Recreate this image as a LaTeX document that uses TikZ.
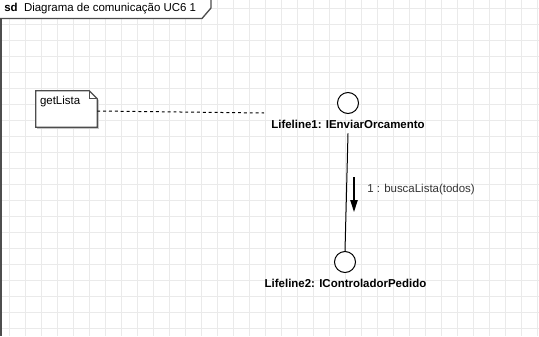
\documentclass[tikz,border=0pt]{standalone}
\usepackage{fontspec}
\setmainfont{Liberation Sans}
\usepackage{tikz}
\usetikzlibrary{arrows.meta,positioning,calc}
\definecolor{gridgray}{HTML}{EAEAEA}
\definecolor{framegray}{HTML}{4D4D4D}
\definecolor{msggray}{HTML}{333333}
\tikzset{
  lifeline/.style={
    draw,
    circle,
    line width=0.75pt,
    fill=white,
    minimum size=15.75pt,
    inner sep=0pt
  },
  lifelabel/.style={font=\bfseries\fontsize{8.6pt}{10pt}\selectfont, inner sep=0pt},
  msglabel/.style={font=\fontsize{8.6pt}{10pt}\selectfont, text=msggray, inner sep=0pt},
  notebox/.style={minimum width=45.75pt, minimum height=27pt, inner sep=0pt},
  link/.style={line width=0.75pt},
  anchorlink/.style={line width=0.75pt, dashed, dash pattern=on 2.2pt off 2.2pt},
  msgflow/.style={line width=0.9pt, -{Triangle[length=9pt, width=5.5pt]}}
}

\begin{document}
\begin{tikzpicture}[x=0.75pt, y=-0.75pt]
\useasboundingbox (0,0) rectangle (539,336);
\clip (0,0) rectangle (539,336);
\fill[white] (0,0) rectangle (539,336);

% background grid
\foreach \gx in {0,...,33}
  \draw[gridgray, line width=0.75pt] ({9.3+16*\gx},0) -- ({9.3+16*\gx},336);
\foreach \gy in {0,...,20}
  \draw[gridgray, line width=0.75pt] (0,{8+16*\gy}) -- (539,{8+16*\gy});

% frame edge with its name tab
\draw[framegray, line width=1.3pt] (1,0) -- (1,336);
\draw[framegray, line width=1pt, fill=white] (0,-2) -- (211,-2) -- (211,8) -- (202,18.5) -- (0,18.5);
\node[anchor=west, inner sep=0pt, font=\fontsize{8.6pt}{10pt}\selectfont] (title) at (4,9)
  {\textbf{sd}\ \ Diagrama de comunicação UC6 1};

% lifelines
\node[lifeline] (l1) at (348,103) {};
\node[lifelabel] (l1lbl) at (348,124) {Lifeline1: IEnviarOrcamento};
\node[lifeline] (l2) at (345,262) {};
\node[lifelabel] (l2lbl) at (345.5,283) {Lifeline2: IControladorPedido};
\draw[link] ($(l1lbl.south)+(0,5)$) -- (l2.north);

% message
\coordinate (msgtop) at (354,177);
\coordinate (msgend) at (354,212);
\draw[msgflow] (msgtop) -- (msgend);
\node[msglabel, anchor=west] (msg) at (367,190) {1 : buscaLista(todos)};

% note
\node[notebox] (note) at (66.5,109) {};
\fill[gray!45] ($(note.north west)+(1.5,1.5)$) -- ($(note.north east)+(-6.5,1.5)$)
  -- ($(note.north east)+(1.5,9.5)$) -- ($(note.south east)+(1.5,1.5)$)
  -- ($(note.south west)+(1.5,1.5)$) -- cycle;
\draw[framegray, line width=0.9pt, fill=white] (note.north west) -- ($(note.north east)+(-8,0)$)
  -- ($(note.north east)+(0,8)$) -- (note.south east) -- (note.south west) -- cycle;
\draw[framegray, line width=0.9pt] ($(note.north east)+(-8,0)$) -- ($(note.north east)+(-8,8)$) -- ($(note.north east)+(0,8)$);
\node[msglabel, text=black, anchor=north west] (notelbl) at ($(note.north west)+(4,5)$) {getLista};
\coordinate (noteend) at (264,113);
\draw[anchorlink] (note.east |- 0,111) -- (noteend);
\end{tikzpicture}
\end{document}
